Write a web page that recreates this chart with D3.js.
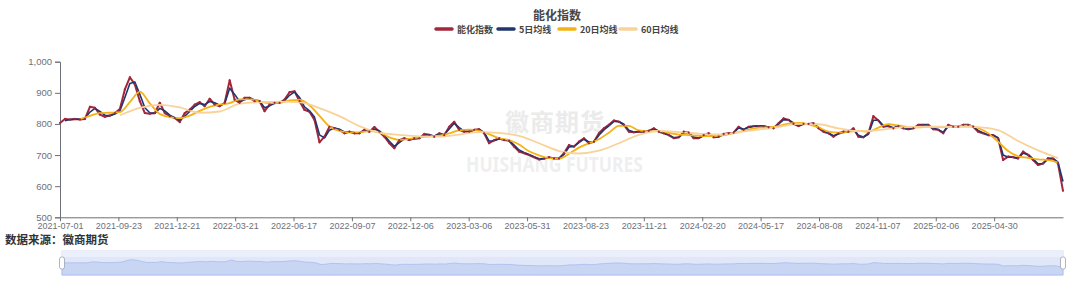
<!DOCTYPE html>
<html>
<head>
<meta charset="utf-8">
<script src="https://cdn.jsdelivr.net/npm/d3@7"></script>
<style>
  body { margin: 0; background: #fff; }
  svg { display: block; }
  text { font-family: "Noto Sans", "Noto Sans CJK SC", sans-serif; }
</style>
</head>
<body>
<div id="chart"></div>
<script>
// x axis tick labels (every 58.5 trading days on the category axis)
var tickLabels = ["2021-07-01","2021-09-23","2021-12-21","2022-03-21","2022-06-17","2022-09-07",
  "2022-12-06","2023-03-06","2023-05-31","2023-08-23","2023-11-21","2024-02-20","2024-05-17",
  "2024-08-08","2024-11-07","2025-02-06","2025-04-30"];
var tickEvery = 58.5;
var lastDay = 1005;

var seriesNames = ["能化指数", "5日均线", "20日均线", "60日均线"];

// 能化指数, one value every 5 trading days from day 0
var indexStart = 0, indexStep = 5;
var indexValues = [803,816,814,816,814,816,855,852,830,823,827,835,848,911,950,927,873,835,833,835,
  868,835,825,819,806,835,846,862,870,857,881,862,857,868,940,878,868,884,884,873,
  873,841,862,868,868,878,902,905,873,845,839,813,741,759,791,786,781,770,775,770,
  770,781,775,790,775,759,738,722,748,754,748,754,754,768,765,759,770,764,791,807,
  781,775,775,781,783,770,738,748,754,748,746,727,711,706,700,693,686,689,693,689,
  689,706,732,727,743,754,738,743,770,786,797,811,807,797,775,773,775,775,778,786,
  775,770,764,754,757,775,772,754,754,764,770,757,759,768,770,772,791,781,791,793,
  793,793,789,786,802,818,813,800,793,800,800,802,786,775,770,759,770,775,775,786,
  759,757,770,825,811,791,793,786,793,786,783,786,797,797,797,783,781,770,797,791,
  791,797,797,791,775,770,764,764,754,684,695,693,689,711,700,684,668,673,690,689,
  673,585];

// 5日均线, every 5 trading days from day 5
var ma5Start = 5, ma5Step = 5;
var ma5Values = [810,814,815,815,818,838,850,840,828,826,832,842,885,930,935,895,852,836,834,850,
  842,828,820,812,825,840,856,866,862,872,868,860,865,915,895,872,878,884,877,874,
  852,858,866,868,875,892,903,885,855,842,822,765,755,780,787,783,774,774,772,771,
  778,777,783,778,764,744,728,740,752,750,752,754,764,765,761,767,766,784,802,788,
  777,776,780,782,773,745,746,752,749,747,732,716,708,702,695,688,688,692,690,689,
  702,726,728,740,751,742,743,764,781,794,808,808,799,780,774,775,775,777,784,777,
  771,765,756,757,771,772,758,755,762,768,760,759,766,769,772,787,783,789,792,793,
  793,790,787,799,814,813,803,795,799,800,801,789,778,771,762,768,773,775,784,764,
  758,767,812,812,795,793,788,792,787,784,786,795,797,797,786,782,773,792,792,791,
  796,797,792,779,771,765,764,756,700,693,693,690,706,702,688,672,673,687,689,677,
  615];

// 20日均线, every 10 trading days from day 20
var ma20Start = 20, ma20Step = 10;
var ma20Values = [815,826,835,836,838,870,904,866,832,822,819,827,842,855,862,867,879,880,872,867,
  868,876,877,860,826,792,778,773,773,777,773,757,749,752,757,760,762,770,779,782,
  778,767,754,748,734,712,699,690,689,704,724,738,751,772,794,794,779,776,777,771,
  766,764,762,761,762,767,774,782,788,789,793,801,803,799,789,775,772,775,778,775,
  788,799,795,790,789,791,790,790,792,795,787,770,743,713,696,691,686,684,676];

// 60日均线, every 20 trading days from day 60
var ma60Start = 60, ma60Step = 20;
var ma60Values = [828,852,861,853,836,840,865,870,872,870,851,825,793,772,765,760,759,766,774,771,
  762,738,713,705,714,738,765,778,774,769,766,774,782,790,800,799,786,777,780,788,
  791,791,791,790,780,745,715,690];

var colors = ["#a3273c", "#22356f", "#f4b214", "#f9d29a"];

function toPoints(start, step, vals) {
  return vals.map(function(v, i) { return {d: start + i * step, v: v}; });
}

var W = 1080, H = 283;
var svg = d3.select("#chart").append("svg")
  .attr("width", W).attr("height", H);

var x = d3.scaleLinear().domain([0, lastDay]).range([60, 1063]);
var y = d3.scaleLinear().domain([500, 1000]).range([217.3, 61.7]);

// watermark
svg.append("text")
  .attr("x", 555).attr("y", 131)
  .attr("text-anchor", "middle")
  .style("font-family", "'Noto Sans CJK SC', sans-serif")
  .style("font-weight", "bold")
  .style("font-size", "24px")
  .style("letter-spacing", "1px")
  .attr("fill", "#ebebeb")
  .text("徽商期货");
svg.append("text")
  .attr("x", 466).attr("y", 172)
  .attr("textLength", 177)
  .attr("lengthAdjust", "spacingAndGlyphs")
  .style("font-weight", "bold")
  .style("font-size", "21px")
  .attr("fill", "#efefef")
  .text("HUISHANG FUTURES");

// title
svg.append("text")
  .attr("x", 557).attr("y", 20)
  .attr("text-anchor", "middle")
  .style("font-family", "'Noto Sans CJK SC', sans-serif")
  .style("font-weight", "bold")
  .style("font-size", "12px")
  .attr("fill", "#464646")
  .text("能化指数");

// legend
var legendX = [436, 498, 559, 620];
var legend = svg.append("g").selectAll("g")
  .data(seriesNames)
  .enter().append("g")
  .attr("transform", function(d, i) { return "translate(" + legendX[i] + ",29)"; });
legend.append("line")
  .attr("x1", 0).attr("x2", 16)
  .attr("stroke", function(d, i) { return colors[i]; })
  .attr("stroke-width", 3.5)
  .attr("stroke-linecap", "round");
legend.append("text")
  .attr("x", 21).attr("y", 3.5)
  .style("font-family", "'Noto Sans CJK SC', sans-serif")
  .style("font-weight", "bold")
  .style("font-size", "9px")
  .attr("fill", "#444")
  .text(function(d) { return d; });

// axes
var yAxis = svg.append("g")
  .attr("transform", "translate(60,0)")
  .call(d3.axisLeft(y).tickValues([500, 600, 700, 800, 900, 1000])
    .tickFormat(d3.format(",")).tickSize(5).tickPadding(3));
yAxis.select(".domain").attr("stroke", "#6e7079");
yAxis.selectAll(".tick line").attr("stroke", "#6e7079");
yAxis.selectAll("text").attr("fill", "#6e7079")
  .style("font-family", "'Liberation Sans', sans-serif").style("font-size", "9.5px");

var xAxis = svg.append("g")
  .attr("transform", "translate(0,217.3)")
  .call(d3.axisBottom(x)
    .tickValues(tickLabels.map(function(d, i) { return i * tickEvery; }))
    .tickFormat(function(d, i) { return tickLabels[i]; })
    .tickSize(4).tickPadding(1.5).tickSizeOuter(0));
xAxis.select(".domain").attr("stroke", "#6e7079");
xAxis.selectAll(".tick line").attr("stroke", "#6e7079");
xAxis.selectAll("text").attr("fill", "#6e7079")
  .style("font-family", "'Liberation Sans', sans-serif").style("font-size", "9px");

// series
var line = d3.line()
  .x(function(p) { return x(p.d); })
  .y(function(p) { return y(p.v); });
var smooth = d3.line()
  .x(function(p) { return x(p.d); })
  .y(function(p) { return y(p.v); })
  .curve(d3.curveMonotoneX);

var series = [
  {pts: toPoints(indexStart, indexStep, indexValues), gen: line, w: 2},
  {pts: toPoints(ma5Start, ma5Step, ma5Values), gen: line, w: 1.6},
  {pts: toPoints(ma20Start, ma20Step, ma20Values), gen: smooth, w: 1.8},
  {pts: toPoints(ma60Start, ma60Step, ma60Values), gen: smooth, w: 1.8}
];
series.forEach(function(s, i) {
  svg.append("path")
    .datum(s.pts)
    .attr("fill", "none")
    .attr("stroke", colors[i])
    .attr("stroke-width", s.w)
    .attr("stroke-linejoin", "round")
    .attr("d", s.gen);
});
// small markers on the index line
svg.append("g").selectAll("circle")
  .data(series[0].pts)
  .enter().append("circle")
  .attr("cx", function(p) { return x(p.d); })
  .attr("cy", function(p) { return y(p.v); })
  .attr("r", 1.1)
  .attr("fill", colors[0]);

// source note
svg.append("text")
  .attr("x", 5).attr("y", 244)
  .style("font-family", "'Noto Sans CJK SC', sans-serif")
  .style("font-weight", "bold")
  .style("font-size", "11.5px")
  .attr("fill", "#333")
  .text("数据来源：徽商期货");

// data zoom slider
var zx = d3.scaleLinear().domain([0, lastDay]).range([62, 1063]);
var zy = d3.scaleLinear().domain([0, 1000]).range([282, 258.5]);
var slider = svg.append("g");
slider.append("rect")
  .attr("x", 62).attr("y", 251).attr("width", 1001).attr("height", 24)
  .attr("fill", "#dfe7f9").attr("stroke", "#d2dbee");
slider.append("rect")
  .attr("x", 62).attr("y", 251).attr("width", 1001).attr("height", 6)
  .attr("fill", "#eaeffb");
slider.append("path")
  .datum(series[0].pts)
  .attr("fill", "#c8d6f4")
  .attr("stroke", "#a9bdea")
  .attr("stroke-width", 0.8)
  .attr("d", d3.area()
    .x(function(p) { return zx(p.d); })
    .y0(275)
    .y1(function(p) { return zy(p.v); }));
[62, 1063].forEach(function(hx) {
  slider.append("rect")
    .attr("x", hx - 2.5).attr("y", 257).attr("width", 5).attr("height", 12)
    .attr("rx", 2)
    .attr("fill", "#fff").attr("stroke", "#9aa3b5").attr("stroke-width", 0.8);
});
</script>
</body>
</html>
